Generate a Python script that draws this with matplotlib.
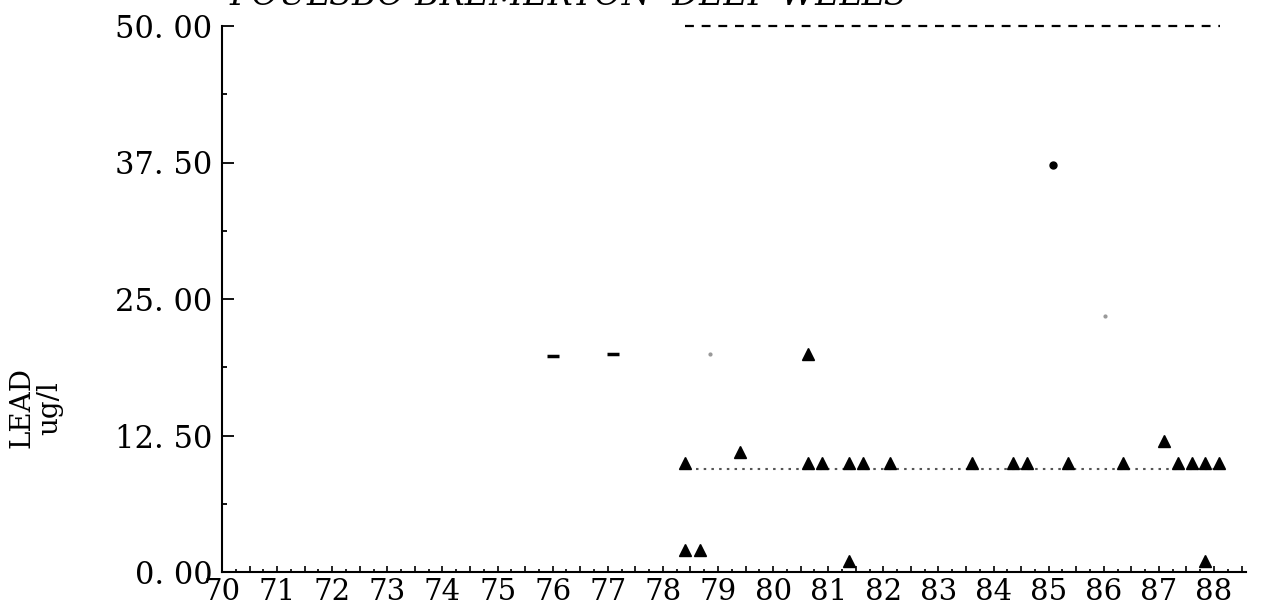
import matplotlib
matplotlib.use('Agg')
import matplotlib.pyplot as plt
from matplotlib.ticker import MultipleLocator, FuncFormatter

plt.rcParams['font.family'] = 'DejaVu Serif'

# triangles (one well)
tri_year = [78.40, 78.40, 78.68, 79.40, 80.64, 80.64, 80.89, 81.38, 81.38, 81.63,
            82.12, 83.61, 84.36, 84.61, 85.35, 86.35, 87.10, 87.35, 87.60, 87.84,
            87.84, 88.09]
tri_lead = [10, 2, 2, 11, 20, 10, 10, 10, 1, 10,
            10, 10, 10, 10, 10, 10, 12, 10, 10, 10,
            1, 10]

# other samples
dash_year = [76.0, 77.1]
dash_lead = [19.8, 20.0]
dot_year = [85.08]
dot_lead = [37.3]
faint_year = [78.85, 86.02]
faint_lead = [20.0, 23.4]

# reference lines
std_year = [78.4, 88.1]
std_lead = [50, 50]
det_year = [78.6, 88.1]
det_lead = [9.4, 9.4]

fig = plt.figure(figsize=(12.64, 6.06), dpi=100)
ax = fig.add_axes([222 / 1264, 34 / 606, (1246 - 222) / 1264, (572 - 26) / 606])

ax.plot(std_year, std_lead, color='black', lw=1.6, linestyle=(0, (4, 3.5)), clip_on=False)
ax.plot(det_year, det_lead, color='#555555', lw=1.5, linestyle=(0, (1.2, 2.5)))
ax.plot(tri_year, tri_lead, '^', color='black', markersize=9, clip_on=False)
ax.plot(dash_year, dash_lead, '_', color='black', markersize=8, mew=2.5)
ax.plot(dot_year, dot_lead, 'o', color='black', markersize=5)
ax.plot(faint_year, faint_lead, 'o', color='#999999', markersize=2)

ax.set_xlim(70, 88.58)
ax.set_ylim(0, 50)

for s in ['top', 'right']:
    ax.spines[s].set_visible(False)
for s in ['left', 'bottom']:
    ax.spines[s].set_linewidth(1.5)

ax.yaxis.set_major_locator(MultipleLocator(12.5))
ax.yaxis.set_minor_locator(MultipleLocator(6.25))
ax.yaxis.set_major_formatter(FuncFormatter(lambda v, p: f"{v:.2f}".replace('.', '. ')))
ax.xaxis.set_major_locator(MultipleLocator(0.5))
ax.xaxis.set_minor_locator(MultipleLocator(0.25))
ax.xaxis.set_major_formatter(FuncFormatter(lambda v, p: f"{int(round(v))}" if abs(v - round(v)) < 1e-6 else ""))

ax.tick_params(axis='y', which='major', direction='in', length=8.5, width=1.3, labelsize=22, pad=7)
ax.tick_params(axis='y', which='minor', direction='in', length=3.6, width=1.3)
ax.tick_params(axis='x', which='major', direction='in', length=4.3, width=1.2, labelsize=21, pad=4)
ax.tick_params(axis='x', which='minor', direction='in', length=2.2, width=1.2)

fig.text(36 / 1264, 1 - 408 / 606, "LEAD\nug/l", rotation=90, ha='center', va='center',
         multialignment='center', fontsize=20, linespacing=1.0)
fig.text(568 / 1264, 1 - 5 / 606, "POULSBO BREMERTON  DEEP WELLS", ha='center', va='baseline',
         fontsize=24, style='italic')

fig.savefig('out.png', dpi=100, facecolor='white')
